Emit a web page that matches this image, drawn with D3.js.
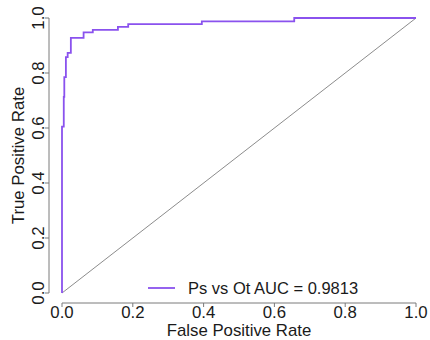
<!DOCTYPE html>
<html>
<head>
<meta charset="utf-8">
<script src="https://cdn.jsdelivr.net/npm/d3@7"></script>
<style>
  html, body { margin: 0; padding: 0; background: #ffffff; }
  svg { display: block; }
  text { font-family: "Liberation Sans", Arial, Helvetica, sans-serif; fill: #1a1a1a; }
</style>
</head>
<body>
<svg id="chart" width="430" height="340"></svg>
<script>
// ROC curve points (step function)
const fpr = [0, 0, 0.005, 0.005, 0.0065, 0.0065, 0.011, 0.011, 0.016, 0.016, 0.025, 0.025, 0.061, 0.061, 0.087, 0.087, 0.158, 0.158, 0.187, 0.187, 0.395, 0.395, 0.656, 0.656, 1];
const tpr = [0, 0.605, 0.605, 0.713, 0.713, 0.785, 0.785, 0.858, 0.858, 0.873, 0.873, 0.928, 0.928, 0.948, 0.948, 0.957, 0.957, 0.968, 0.968, 0.978, 0.978, 0.988, 0.988, 1, 1];
const diagonal = [0, 1];
const xTicks = [0, 0.2, 0.4, 0.6, 0.8, 1.0];
const yTicks = [0, 0.2, 0.4, 0.6, 0.8, 1.0];
const xLabel = "False Positive Rate";
const yLabel = "True Positive Rate";
const legendLabel = "Ps vs Ot AUC = 0.9813";

const svg = d3.select("#chart");
const x = d3.scaleLinear().domain([0, 1]).range([62, 416]);
const y = d3.scaleLinear().domain([0, 1]).range([293, 18]);
const axisColor = "#7a7a7a";
const curveColor = "#8a52ee";
const fs = 16;
const stretch = 1.05;

// X axis (R style, offset below plot)
const xAxisY = 303;
const gx = svg.append("g").attr("transform", `translate(0,${xAxisY})`);
gx.append("line").attr("x1", x(0)).attr("x2", x(1)).attr("y1", 0).attr("y2", 0)
  .attr("stroke", axisColor).attr("stroke-width", 1);
gx.selectAll("line.tick").data(xTicks).enter().append("line")
  .attr("class", "tick")
  .attr("x1", d => x(d)).attr("x2", d => x(d)).attr("y1", 0).attr("y2", 4)
  .attr("stroke", axisColor).attr("stroke-width", 1);
gx.selectAll("text").data(xTicks).enter().append("text")
  .attr("transform", d => `translate(${x(d)},${15}) scale(${stretch},1)`)
  .attr("text-anchor", "middle")
  .attr("font-size", fs)
  .text(d => d3.format(".1f")(d));

// Y axis
const yAxisX = 49;
const gy = svg.append("g").attr("transform", `translate(${yAxisX},0)`);
gy.append("line").attr("x1", 0).attr("x2", 0).attr("y1", y(0)).attr("y2", y(1))
  .attr("stroke", axisColor).attr("stroke-width", 1);
gy.selectAll("line.tick").data(yTicks).enter().append("line")
  .attr("class", "tick")
  .attr("x1", 0).attr("x2", -4).attr("y1", d => y(d)).attr("y2", d => y(d))
  .attr("stroke", axisColor).attr("stroke-width", 1);
gy.selectAll("text").data(yTicks).enter().append("text")
  .attr("transform", d => `translate(${-5},${y(d)}) rotate(-90) scale(${stretch},1)`)
  .attr("text-anchor", "middle")
  .attr("font-size", fs)
  .text(d => d3.format(".1f")(d));

// Axis titles
svg.append("text")
  .attr("transform", `translate(${(x(0) + x(1)) / 2},${336}) scale(${stretch},1)`)
  .attr("text-anchor", "middle").attr("font-size", fs)
  .text(xLabel);
svg.append("text")
  .attr("transform", `translate(${24},${(y(0) + y(1)) / 2}) rotate(-90) scale(${stretch},1)`)
  .attr("text-anchor", "middle").attr("font-size", fs)
  .text(yLabel);

// Diagonal reference line
svg.append("line")
  .attr("x1", x(diagonal[0])).attr("y1", y(diagonal[0]))
  .attr("x2", x(diagonal[1])).attr("y2", y(diagonal[1]))
  .attr("stroke", "#8c8c8c").attr("stroke-width", 1);

// ROC curve
const pts = fpr.map((f, i) => [f, tpr[i]]);
svg.append("path")
  .datum(pts)
  .attr("fill", "none")
  .attr("stroke", curveColor)
  .attr("stroke-width", 1.8)
  .attr("stroke-linejoin", "miter")
  .attr("d", d3.line().x(d => x(d[0])).y(d => y(d[1])));

// Legend
svg.append("line")
  .attr("x1", 148).attr("x2", 175).attr("y1", 288).attr("y2", 288)
  .attr("stroke", curveColor).attr("stroke-width", 1.8);
svg.append("text")
  .attr("transform", `translate(188,${293.5})`)
  .attr("font-size", 16.5)
  .text(legendLabel);
</script>
</body>
</html>
